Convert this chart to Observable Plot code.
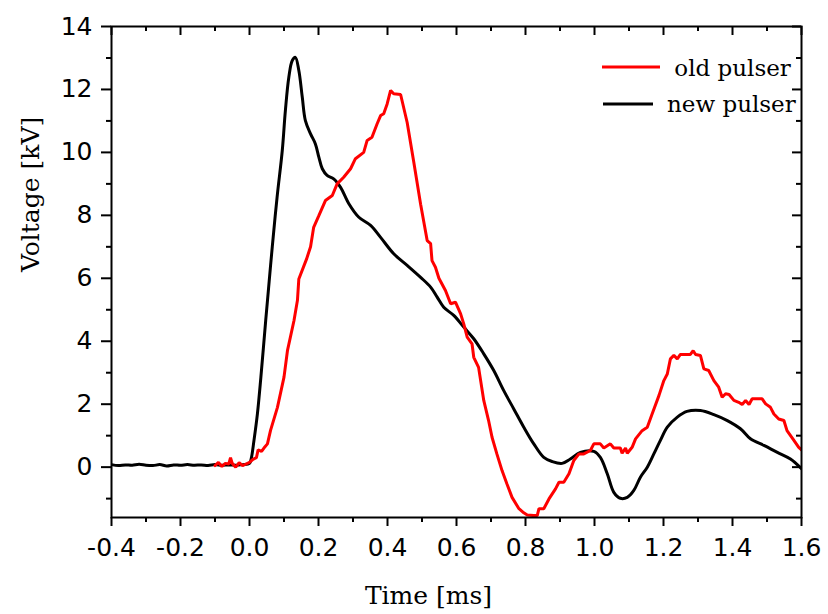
<!DOCTYPE html>
<html>
<head>
<meta charset="utf-8">
<script src="https://cdn.jsdelivr.net/npm/d3@7"></script>
<script src="https://cdn.jsdelivr.net/npm/@observablehq/plot@0.6"></script>
<style>
  body { margin: 0; background: #fff; }
  #chart { position: relative; width: 828px; height: 614px; }
</style>
</head>
<body>
<div id="chart"></div>
<script>
// ---- data ----
const newT = [-0.4,-0.38,-0.36,-0.34,-0.32,-0.3,-0.28,-0.26,-0.24,-0.22,-0.2,-0.18,-0.16,-0.14,-0.12,-0.1,-0.08,-0.06,-0.04,-0.02,0.0,0.005,0.013,0.023,0.033,0.047,0.057,0.066,0.08,0.095,0.104,0.114,0.124,0.133,0.143,0.153,0.162,0.177,0.191,0.201,0.211,0.225,0.244,0.264,0.288,0.317,0.351,0.38,0.418,0.457,0.496,0.525,0.544,0.563,0.592,0.621,0.65,0.679,0.708,0.737,0.766,0.795,0.824,0.853,0.877,0.906,0.93,0.959,0.998,1.017,1.037,1.056,1.075,1.095,1.114,1.133,1.153,1.172,1.191,1.211,1.24,1.268,1.307,1.346,1.385,1.423,1.452,1.491,1.53,1.568,1.6];
const newV = [0.08,0.05,0.07,0.06,0.09,0.06,0.05,0.08,0.04,0.07,0.06,0.08,0.06,0.07,0.05,0.08,0.06,0.07,0.06,0.08,0.12,0.27,0.85,1.7,2.86,4.66,5.9,7.0,8.58,10.06,11.33,12.39,12.92,13.02,12.6,11.75,11.01,10.59,10.27,9.85,9.48,9.27,9.16,8.89,8.37,7.94,7.68,7.3,6.78,6.41,6.03,5.72,5.4,5.08,4.82,4.45,4.08,3.6,3.07,2.43,1.85,1.27,0.74,0.31,0.18,0.12,0.26,0.47,0.5,0.31,-0.21,-0.8,-0.99,-0.96,-0.74,-0.32,0.0,0.42,0.85,1.27,1.59,1.77,1.8,1.67,1.48,1.22,0.9,0.69,0.47,0.26,-0.05];

const oldT = [-0.1,-0.09,-0.08,-0.07,-0.06,-0.055,-0.05,-0.04,-0.03,-0.02,-0.01,0.0,0.01,0.02,0.025,0.035,0.045,0.052,0.061,0.081,0.1,0.11,0.129,0.139,0.143,0.165,0.177,0.186,0.201,0.22,0.24,0.254,0.273,0.293,0.307,0.331,0.341,0.355,0.37,0.38,0.389,0.399,0.409,0.418,0.438,0.457,0.476,0.496,0.515,0.525,0.529,0.539,0.549,0.568,0.583,0.597,0.612,0.621,0.631,0.645,0.65,0.664,0.679,0.693,0.703,0.717,0.732,0.746,0.761,0.781,0.795,0.805,0.824,0.834,0.839,0.853,0.868,0.887,0.897,0.911,0.926,0.94,0.955,0.969,0.988,0.998,1.017,1.027,1.046,1.056,1.075,1.08,1.09,1.095,1.109,1.119,1.138,1.153,1.167,1.187,1.201,1.211,1.22,1.23,1.24,1.249,1.278,1.286,1.293,1.307,1.317,1.331,1.346,1.36,1.37,1.38,1.39,1.404,1.418,1.428,1.438,1.448,1.457,1.486,1.496,1.51,1.52,1.534,1.549,1.558,1.578,1.592,1.6];
const oldV = [0.05,0.15,0.02,0.12,0.1,0.3,0.12,0.0,0.14,0.05,0.1,0.15,0.25,0.3,0.55,0.5,0.65,0.74,1.17,1.9,2.86,3.7,4.66,5.3,5.98,6.6,7.0,7.62,7.99,8.47,8.63,9.0,9.21,9.48,9.8,10.0,10.38,10.48,10.91,11.17,11.23,11.54,11.97,11.86,11.84,10.95,9.7,8.35,7.2,7.1,6.56,6.35,6.0,5.61,5.19,5.24,4.87,4.55,4.13,3.92,3.49,3.17,2.12,1.48,0.95,0.42,-0.11,-0.53,-0.96,-1.32,-1.45,-1.52,-1.54,-1.54,-1.32,-1.32,-1.01,-0.69,-0.48,-0.48,-0.21,0.21,0.42,0.42,0.53,0.74,0.74,0.61,0.74,0.61,0.61,0.44,0.61,0.44,0.63,0.9,1.16,1.27,1.69,2.28,2.75,2.96,3.44,3.55,3.44,3.58,3.58,3.7,3.58,3.55,3.12,3.07,2.75,2.54,2.22,2.33,2.31,2.12,2.06,1.99,2.12,1.99,2.17,2.17,2.01,1.9,1.69,1.53,1.48,1.16,0.85,0.63,0.55];

const xMajor = [-0.4,-0.2,0.0,0.2,0.4,0.6,0.8,1.0,1.2,1.4,1.6];
const xMinor = [-0.3,-0.1,0.1,0.3,0.5,0.7,0.9,1.1,1.3,1.5];
const yMajor = [0,2,4,6,8,10,12,14];
const yMinor = [-1,1,3,5,7,9,11,13];
const xLabel = "Time [ms]";
const yLabel = "Voltage [kV]";
const seriesNames = ["old pulser", "new pulser"];
const seriesColors = ["#ff0000", "#000000"];

const newData = newT.map((t, i) => ({t, v: newV[i]}));
const oldData = oldT.map((t, i) => ({t, v: oldV[i]}));

const W = 828, H = 614, mL = 111, mR = 27, mT = 26, mB = 97;
const innerW = W - mL - mR, innerH = H - mT - mB;
const tickFont = "DejaVu Sans, sans-serif";
const serif = "DejaVu Serif, serif";

const fmt = d => (d < 0 ? "-" : "") + Math.abs(d).toFixed(1);

const plot = Plot.plot({
  width: W, height: H,
  marginLeft: mL, marginRight: mR, marginTop: mT, marginBottom: mB,
  x: {domain: [-0.4, 1.6]},
  y: {domain: [-1.6, 14]},
  style: {background: "#fff"},
  marks: [
    Plot.line(newData, {x: "t", y: "v", stroke: seriesColors[1], strokeWidth: 3, curve: "catmull-rom", clip: true}),
    Plot.line(oldData, {x: "t", y: "v", stroke: seriesColors[0], strokeWidth: 3, strokeLinejoin: "miter", clip: true}),
    Plot.frame({stroke: "#000", strokeWidth: 2}),
    // bottom axis (outward ticks)
    Plot.axisX(xMajor, {anchor: "bottom", tickSize: 9, tickPadding: 12, tickFormat: fmt,
      fontSize: 25, fontFamily: tickFont, fill: "#000", stroke: "#000", strokeWidth: 2, label: null}),
    Plot.axisX(xMinor, {anchor: "bottom", tickSize: 5, text: null, stroke: "#000", strokeWidth: 2, label: null}),
    // left axis (outward ticks)
    Plot.axisY(yMajor, {anchor: "left", tickSize: 10, tickPadding: 9, tickFormat: d => String(d),
      fontSize: 25, fontFamily: tickFont, fill: "#000", stroke: "#000", strokeWidth: 2, label: null}),
    Plot.axisY(yMinor, {anchor: "left", tickSize: 5, text: null, stroke: "#000", strokeWidth: 2, label: null}),
    // top inward ticks
    Plot.ruleX(xMajor, {x: d => d, insetBottom: innerH - 9, stroke: "#000", strokeWidth: 2}),
    Plot.ruleX(xMinor, {x: d => d, insetBottom: innerH - 5, stroke: "#000", strokeWidth: 2}),
    // right inward ticks
    Plot.ruleY(yMajor, {y: d => d, insetLeft: innerW - 9, stroke: "#000", strokeWidth: 2}),
    Plot.ruleY(yMinor, {y: d => d, insetLeft: innerW - 5, stroke: "#000", strokeWidth: 2}),
    // axis titles
    Plot.text([xLabel], {frameAnchor: "bottom", dx: -28, dy: 86, fontSize: 25, fontFamily: serif, fill: "#000", text: d => d}),
    Plot.text([yLabel], {frameAnchor: "left", dx: -81, rotate: -90, fontSize: 25, fontFamily: serif, fill: "#000", text: d => d})
  ]
});

document.getElementById("chart").appendChild(plot);

// legend (inside the svg, top right)
const svg = d3.select(plot);
const lg = svg.append("g").attr("font-family", serif).attr("font-size", 23)
  .attr("fill", "#000").attr("text-anchor", "start");
const legendRows = [
  {name: " " + seriesNames[0], color: seriesColors[0], x1: 602, x2: 660, y: 67, base: 76},
  {name: seriesNames[1], color: seriesColors[1], x1: 603, x2: 653, y: 104, base: 112}
];
legendRows.forEach(r => {
  lg.append("line").attr("x1", r.x1).attr("x2", r.x2).attr("y1", r.y).attr("y2", r.y)
    .attr("stroke", r.color).attr("stroke-width", 3);
  lg.append("text").attr("x", 667).attr("y", r.base).attr("text-anchor", "start")
    .style("white-space", "pre").text(r.name);
});
</script>
</body>
</html>
